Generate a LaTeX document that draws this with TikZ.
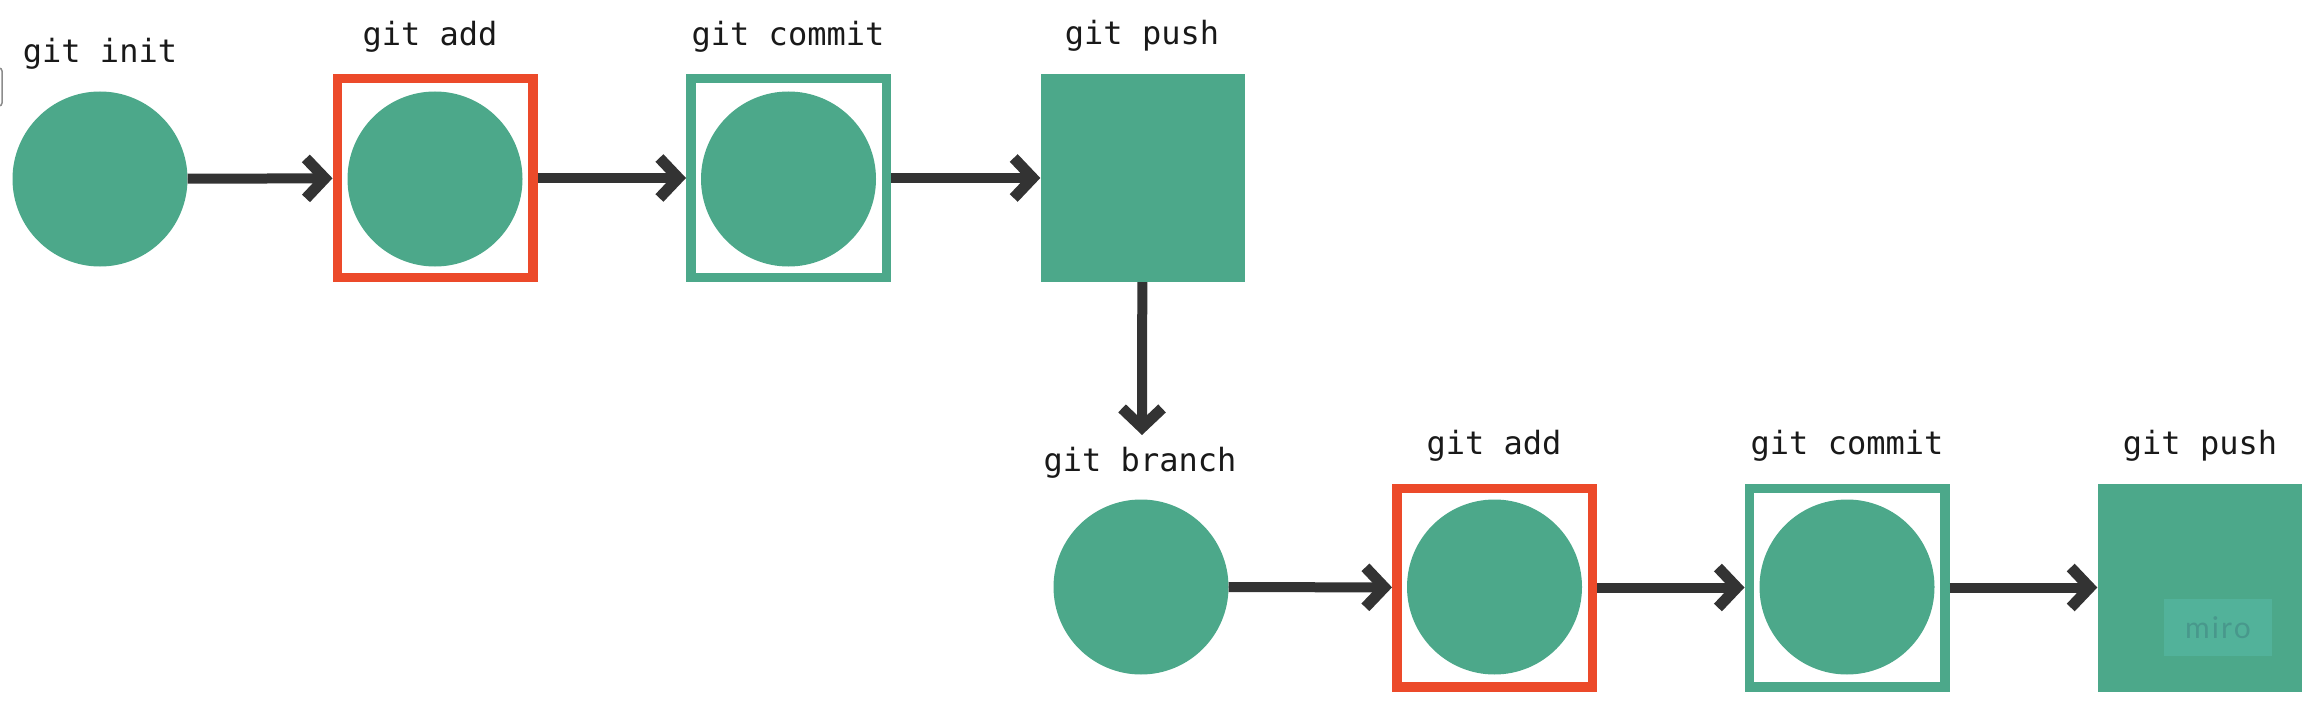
\documentclass[tikz,border=0pt]{standalone}
\usepackage{fontspec}
\newfontfamily\monof{DejaVu Sans Mono}
\newfontfamily\mirof{Lato}
\usetikzlibrary{arrows.meta}
\definecolor{gitgreen}{RGB}{76,168,138}
\definecolor{gitred}{RGB}{236,74,42}
\definecolor{arrowgray}{RGB}{51,51,51}
\definecolor{mirobg}{RGB}{82,178,154}
\definecolor{mirotext}{RGB}{72,152,140}
\begin{document}
\begin{tikzpicture}[x=1pt,y=-1pt,
 dot/.style={circle, fill=gitgreen, minimum size=175pt, inner sep=0pt},
 addbox/.style={rectangle, draw=gitred, line width=9.5pt, minimum width=195.5pt, minimum height=198.5pt, inner sep=0pt},
 commitbox/.style={addbox, draw=gitgreen},
 pushbox/.style={rectangle, fill=gitgreen, minimum width=204pt, minimum height=208pt, inner sep=0pt},
 cmd/.style={font=\monof\fontsize{32}{36}\selectfont, text=black!90, anchor=base, inner sep=0pt},
 flow/.style={draw=arrowgray, line width=10pt, -{Straight Barb[length=19pt,width=40pt,line width=11pt]}}
]
\useasboundingbox (0,0) rectangle (2318,714);
% UI artifact at left edge
\draw[black!45, line width=1.5pt, rounded corners=3pt] (-8,68) rectangle (2,106);

% top row
\node[dot] (init) at (100,179) {};
\node[addbox] (add1) at (435,178) {};
\node[dot] (add1c) at (435,179) {};
\node[commitbox] (commit1) at (788.5,178) {};
\node[dot] (commit1c) at (788.5,179) {};
\node[pushbox] (push1) at (1142.5,178) {};

\node[cmd] (linit) at (100,63) {git init};
\node[cmd] (ladd1) at (430,46) {git add};
\node[cmd] (lcommit1) at (788,46) {git commit};
\node[cmd] (lpush1) at (1142,45) {git push};

% bottom row
\node[dot] (branch) at (1141,587) {};
\node[addbox] (add2) at (1494.5,587.5) {};
\node[dot] (add2c) at (1494.5,587) {};
\node[commitbox] (commit2) at (1847,587.5) {};
\node[dot] (commit2c) at (1847,587) {};
\node[pushbox] (push2) at (2199.5,587.5) {};
\node[fill=mirobg, minimum width=108pt, minimum height=57pt, inner sep=0pt,
      font=\mirof\fontsize{30}{30}\selectfont, text=mirotext] (miro) at (2218,627.5) {m\kern2pt i\kern2pt r\kern2pt o};

\node[cmd] (lbranch) at (1140,471) {git branch};
\node[cmd] (ladd2) at (1494,454) {git add};
\node[cmd] (lcommit2) at (1847,454) {git commit};
\node[cmd] (lpush2) at (2200,454) {git push};

\coordinate (branchtip) at (1142,435);

% connectors
\draw[flow] (init) -- (add1);
\draw[flow] (add1) -- (commit1);
\draw[flow] (commit1) -- (push1);
\draw[flow] (push1) -- (branchtip);
\draw[flow] (branch) -- (add2);
\draw[flow] (add2) -- (commit2);
\draw[flow] (commit2) -- (push2);
\end{tikzpicture}
\end{document}
